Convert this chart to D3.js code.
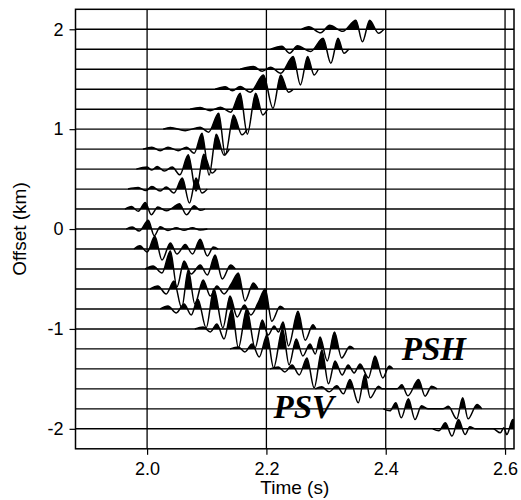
<!DOCTYPE html>
<html><head><meta charset="utf-8">
<script src="https://cdn.jsdelivr.net/npm/d3@7"></script>
<style>body{margin:0;background:#fff}svg{display:block}</style>
</head><body><svg id="c" width="521" height="500"></svg>
<script>
// Trace offsets (km), top to bottom
const offsets = [2.0, 1.8, 1.6, 1.4, 1.2, 1.0, 0.8, 0.6, 0.4, 0.2, 0.0,
                 -0.2, -0.4, -0.6, -0.8, -1.0, -1.2, -1.4, -1.6, -1.8, -2.0];
// Each trace: [time (s), amplitude (units; gain converts to km)] at turning points
const traces = [
  [[2.259,0],[2.271,2.5],[2.291,-3.5],[2.306,4],[2.328,-2],[2.350,9],[2.361,-12.5],[2.373,9],[2.388,-4],[2.397,0]],
  [[2.207,0],[2.226,3],[2.239,-4],[2.252,3.5],[2.274,-2.3],[2.295,11],[2.308,-14],[2.320,11],[2.330,-4],[2.338,0]],
  [[2.156,0],[2.178,2.7],[2.193,-2],[2.207,2],[2.224,-4],[2.245,12.7],[2.257,-15.7],[2.269,12.7],[2.280,-5.7],[2.287,0]],
  [[2.114,0],[2.131,2.5],[2.143,-1.5],[2.156,2.7],[2.173,-3],[2.195,14.3],[2.211,-19],[2.224,14.3],[2.237,-3],[2.245,0]],
  [[2.072,0],[2.089,1.7],[2.106,-1.5],[2.123,2],[2.140,-3],[2.156,16],[2.168,-25],[2.182,16],[2.194,-5.7],[2.202,0]],
  [[2.027,0],[2.039,1.7],[2.064,-1.5],[2.089,2],[2.103,-3],[2.120,16],[2.131,-25.7],[2.145,14.3],[2.159,-5.7],[2.168,0]],
  [[1.993,0],[2.008,2],[2.022,-1.5],[2.035,2],[2.052,-1.5],[2.066,2],[2.079,-4],[2.092,16],[2.104,-26],[2.116,15],[2.129,-6],[2.138,0]],
  [[1.982,0],[2.000,2],[2.008,-1],[2.017,2.7],[2.029,-2],[2.042,2],[2.055,-5.7],[2.069,14.3],[2.082,-22],[2.095,15],[2.109,-4],[2.116,0]],
  [[1.968,0],[1.985,1.5],[1.998,-1.5],[2.008,2.5],[2.022,-2],[2.032,2],[2.045,-4],[2.059,11],[2.071,-14],[2.082,11],[2.092,-4],[2.101,0]],
  [[1.963,0],[1.974,2.7],[1.985,-2.3],[1.997,6.7],[2.007,-5.7],[2.018,2],[2.032,-1.7],[2.042,1],[2.054,5.3],[2.066,-5.7],[2.079,3.3],[2.089,-1.3],[2.097,0]],
  [[1.965,0],[1.975,2],[1.987,-2],[2.002,8.7],[2.012,-6.7],[2.022,2.3],[2.035,-1.5],[2.049,1.3],[2.062,-1.3],[2.076,1.3],[2.089,-1],[2.101,0]],
  [[1.978,0],[1.988,3.3],[2.000,-3],[2.013,12.7],[2.025,-11],[2.039,6],[2.050,-5],[2.064,4.5],[2.076,-5],[2.089,9.7],[2.101,-7],[2.111,2],[2.119,0]],
  [[1.997,0],[2.010,3],[2.025,-4],[2.039,18],[2.050,-18],[2.062,8],[2.074,-5],[2.089,4],[2.101,-6],[2.114,14],[2.126,-10],[2.140,4],[2.148,0]],
  [[2.005,0],[2.018,3],[2.032,-5],[2.045,8],[2.058,-19],[2.069,19],[2.080,-15],[2.094,9],[2.106,-7],[2.117,3],[2.129,-5],[2.141,5],[2.153,16],[2.164,-12],[2.178,6],[2.186,0]],
  [[2.022,0],[2.035,3],[2.049,-4],[2.062,5],[2.074,-6],[2.085,10],[2.099,-19],[2.112,20],[2.127,-19],[2.139,13],[2.151,-8],[2.163,4],[2.174,-6],[2.186,6],[2.198,20],[2.209,-12.3],[2.223,2.7],[2.230,0]],
  [[2.080,0],[2.094,2],[2.106,-3],[2.117,5],[2.129,-10],[2.142,20],[2.153,-19],[2.167,20],[2.181,-19],[2.193,9],[2.203,-6],[2.213,3],[2.220,-3],[2.228,7],[2.237,-17],[2.253,17.6],[2.265,-11.3],[2.278,4.3],[2.283,0]],
  [[2.139,0],[2.153,2],[2.164,-3],[2.176,5],[2.188,-8],[2.201,14],[2.212,-19],[2.227,20],[2.238,-16],[2.250,10],[2.261,-7],[2.273,5],[2.282,-5],[2.290,12],[2.302,-12],[2.314,17],[2.326,-9],[2.340,2.7],[2.347,0]],
  [[2.206,0],[2.220,2],[2.231,-3],[2.243,4],[2.255,-6],[2.268,11],[2.280,-19],[2.293,19],[2.304,-15],[2.315,8],[2.327,-6],[2.337,4],[2.347,-4],[2.357,5],[2.371,-9],[2.382,13],[2.395,-9],[2.406,3],[2.412,0]],
  [[2.282,0],[2.293,2],[2.305,-3],[2.318,3],[2.329,-5],[2.340,9.3],[2.354,-14],[2.365,14.3],[2.374,-9],[2.388,2.7],[2.394,0],
   [2.419,0],[2.427,4],[2.437,-7],[2.455,9.3],[2.466,-7.3],[2.477,2.7],[2.486,0]],
  [[2.396,0],[2.407,-2],[2.417,6],[2.426,-9],[2.438,10],[2.449,-10.7],[2.460,3],[2.471,0],
   [2.496,0],[2.505,2.5],[2.519,-10],[2.529,11],[2.538,-10],[2.553,4.3],[2.561,0]],
  [[2.479,0],[2.489,-2],[2.500,6],[2.511,-7.3],[2.522,9.3],[2.533,-5.7],[2.541,2],[2.551,0],
   [2.580,0],[2.592,-4],[2.598,1],[2.603,-5.7],[2.613,9.3],[2.625,-6]]
];
const gain = 0.01; // km per amplitude unit
const xTicks = [2.0, 2.2, 2.4, 2.6];
const yTicks = [2, 1, 0, -1, -2];
const phaseLabels = ["PSH", "PSV"];
const phaseTimes = [2.427, 2.212];
const phaseOffsets = [-1.309, -1.893];

const svg = d3.select("#c");
const x = d3.scaleLinear().domain([1.88, 2.615]).range([75.5, 514]);
const y = d3.scaleLinear().domain([-2.2, 2.2]).range([448.8, 9.3]);
const [x0, x1] = x.range();
const [yb, yt] = y.range();

const defs = svg.append("defs");
defs.append("clipPath").attr("id", "plot")
  .append("rect").attr("x", x0).attr("y", yt).attr("width", x1 - x0).attr("height", yb - yt);
offsets.forEach((o, i) => {
  defs.append("clipPath").attr("id", "pos" + i)
    .append("rect").attr("x", x0).attr("y", 0).attr("width", x1 - x0).attr("height", y(o));
});

const plot = svg.append("g").attr("clip-path", "url(#plot)");

// vertical grid lines
plot.selectAll("line.grid").data(xTicks).join("line")
  .attr("class", "grid")
  .attr("x1", d => x(d)).attr("x2", d => x(d))
  .attr("y1", yt).attr("y2", yb)
  .attr("stroke", "#000").attr("stroke-width", 1.3);

// baselines
plot.selectAll("line.base").data(offsets).join("line")
  .attr("class", "base")
  .attr("x1", x0).attr("x2", x1)
  .attr("y1", d => y(d)).attr("y2", d => y(d))
  .attr("stroke", "#000").attr("stroke-width", 1.4);

offsets.forEach((o, i) => {
  const pts = traces[i];
  const area = d3.area().x(d => x(d[0])).y0(y(o)).y1(d => y(o + d[1] * gain)).curve(d3.curveMonotoneX);
  const line = d3.line().x(d => x(d[0])).y(d => y(o + d[1] * gain)).curve(d3.curveMonotoneX);
  plot.append("g").attr("clip-path", "url(#pos" + i + ")")
    .append("path").attr("d", area(pts)).attr("fill", "#000");
  plot.append("path").attr("d", line(pts)).attr("fill", "none")
    .attr("stroke", "#000").attr("stroke-width", 1.5).attr("stroke-linejoin", "round");
});

// phase labels
svg.selectAll("text.phase").data(phaseLabels).join("text")
  .attr("class", "phase")
  .attr("x", (d, i) => x(phaseTimes[i])).attr("y", (d, i) => y(phaseOffsets[i]))
  .attr("font-family", "'Liberation Serif', 'Times New Roman', serif")
  .attr("font-weight", "bold").attr("font-style", "italic")
  .attr("font-size", 33).text(d => d);

// frame
svg.append("rect").attr("x", x0).attr("y", yt).attr("width", x1 - x0).attr("height", yb - yt)
  .attr("fill", "none").attr("stroke", "#000").attr("stroke-width", 1.5);

const font = "'Liberation Sans', Arial, Helvetica, sans-serif";
const ax = svg.append("g").attr("transform", `translate(0,${yb})`)
  .call(d3.axisBottom(x).tickValues(xTicks).tickFormat(d3.format(".1f")).tickSize(6).tickPadding(7));
const ay = svg.append("g").attr("transform", `translate(${x0},0)`)
  .call(d3.axisLeft(y).tickValues(yTicks).tickFormat(d => String(d)).tickSize(6).tickPadding(6));
[ax, ay].forEach(g => {
  g.select(".domain").remove();
  g.selectAll("line").attr("stroke", "#000").attr("stroke-width", 1.2);
  g.selectAll("text").attr("font-family", font).attr("font-size", 18).attr("fill", "#000");
});

svg.append("text").attr("x", (x0 + x1) / 2).attr("y", 494)
  .attr("text-anchor", "middle").attr("font-family", font).attr("font-size", 19)
  .text("Time (s)");
svg.append("text").attr("transform", `translate(26,${(yt + yb) / 2}) rotate(-90)`)
  .attr("text-anchor", "middle").attr("font-family", font).attr("font-size", 19)
  .text("Offset (km)");
</script></body></html>
